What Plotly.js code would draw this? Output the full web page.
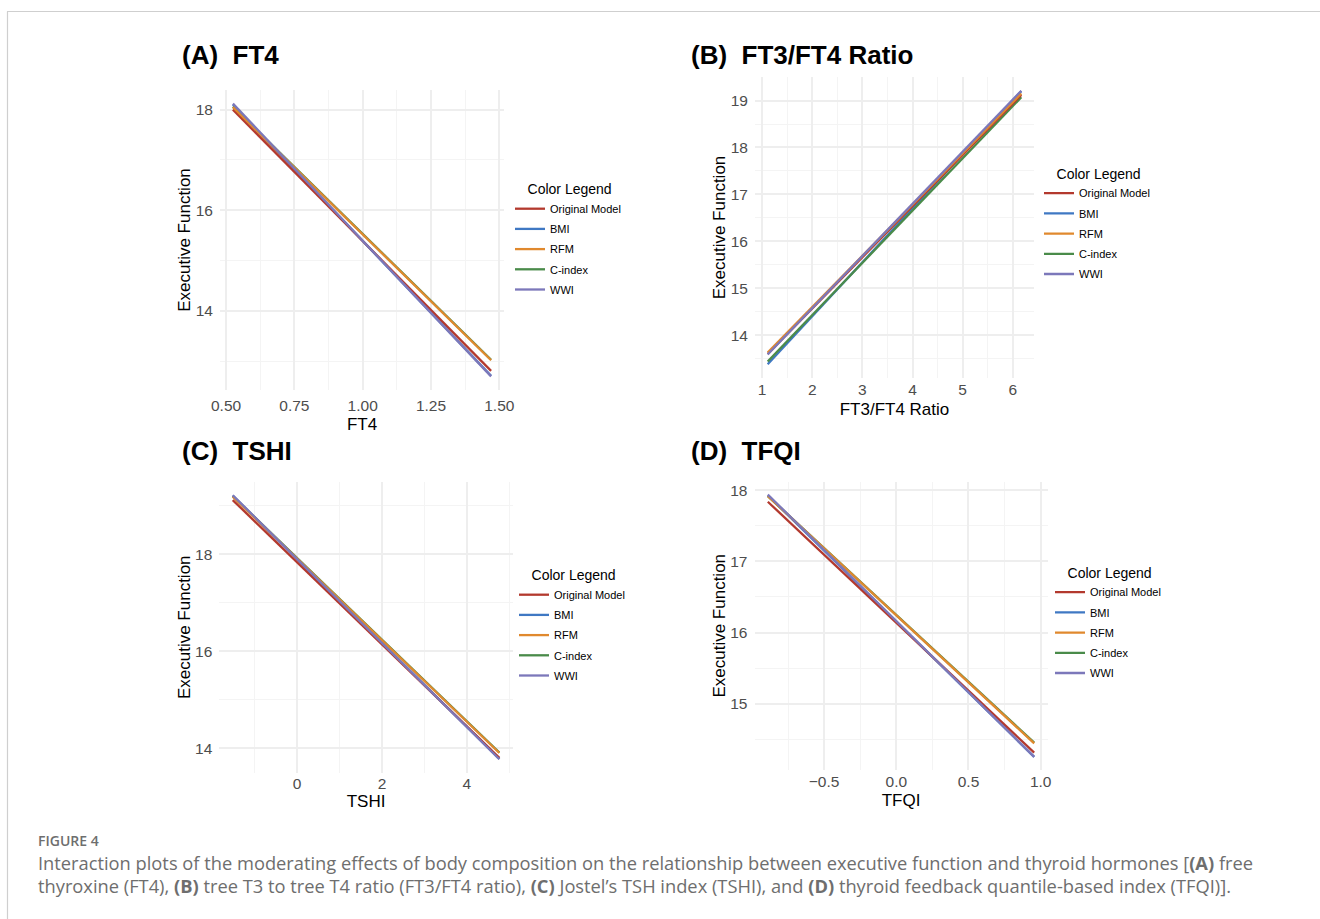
<!DOCTYPE html>
<html>
<head>
<meta charset="utf-8">
<script src="https://cdn.plot.ly/plotly-3.0.1.min.js"></script>
<style>
html, body { margin: 0; padding: 0; background: #ffffff; }
#chart { width: 1320px; height: 919px; }
</style>
</head>
<body>
<div id="chart"></div>
<script>
// ---- data ----
const seriesNames = ["Original Model", "BMI", "RFM", "C-index", "WWI"];
const seriesColors = ["#B3392E", "#3F78C3", "#E0892E", "#4A8B4A", "#7C78BA"];

// Panel A: FT4
const ft4X = [0.525, 1.47];
const ft4Original = [18.00, 12.81];
const ft4BMI = [18.10, 12.71];
const ft4RFM = [18.05, 13.02];
const ft4Cindex = [18.06, 13.03];
const ft4WWI = [18.12, 12.70];

// Panel B: FT3/FT4 Ratio
const ratioX = [1.11, 6.17];
const ratioOriginal = [13.60, 19.12];
const ratioBMI = [13.38, 19.20];
const ratioRFM = [13.63, 19.15];
const ratioCindex = [13.44, 19.07];
const ratioWWI = [13.59, 19.21];

// Panel C: TSHI
const tshiX = [-1.52, 4.77];
const tshiOriginal = [19.12, 13.80];
const tshiBMI = [19.21, 13.78];
const tshiRFM = [19.19, 13.90];
const tshiCindex = [19.20, 13.91];
const tshiWWI = [19.22, 13.77];

// Panel D: TFQI
const tfqiX = [-0.89, 0.955];
const tfqiOriginal = [17.84, 14.31];
const tfqiBMI = [17.93, 14.25];
const tfqiRFM = [17.92, 14.44];
const tfqiCindex = [17.92, 14.45];
const tfqiWWI = [17.94, 14.25];

const panelTitles = ["(A)\u00A0 FT4", "(B)\u00A0 FT3/FT4 Ratio", "(C)\u00A0 TSHI", "(D)\u00A0 TFQI"];
const xTitles = ["FT4", "FT3/FT4 Ratio", "TSHI", "TFQI"];
const yTitle = "Executive Function";
const legendTitle = "Color Legend";
const captionLabel = "FIGURE 4";
const captionLine1 = "Interaction plots of the moderating effects of body composition on the relationship between executive function and thyroid hormones [<b>(A)</b> free";
const captionLine2 = "thyroxine (FT4), <b>(B)</b> tree T3 to tree T4 ratio (FT3/FT4 ratio), <b>(C)</b> Jostel\u2019s TSH index (TSHI), and <b>(D)</b> thyroid feedback quantile-based index (TFQI)].";

// ggplot draws groups in alphabetical order: BMI, C-index, Original Model, RFM, WWI
const drawOrder = [1, 3, 0, 2, 4];

// ---- build ----
const W = 1320, H = 919;
const px = v => v / W;
const py = v => 1 - v / H;

const panels = [
  { x: ft4X, ys: [ft4Original, ft4BMI, ft4RFM, ft4Cindex, ft4WWI],
    dom: [220, 504, 90, 390], xdt: 0.25, xt0: 0.5, xfmt: ".2f", ydt: 2, yt0: 0, xtl: 1, so: 5,
    title: [180, 55], legend: [510, 176] },
  { x: ratioX, ys: [ratioOriginal, ratioBMI, ratioRFM, ratioCindex, ratioWWI],
    dom: [755, 1034, 77, 378], xdt: 1, xt0: 0, xfmt: "d", ydt: 1, yt0: 0, xtl: 0, so: 6,
    title: [689, 55], legend: [1039, 160.5] },
  { x: tshiX, ys: [tshiOriginal, tshiBMI, tshiRFM, tshiCindex, tshiWWI],
    dom: [219.4, 512.7, 482, 772.5], xdt: 2, xt0: 0, xfmt: "d", ydt: 2, yt0: 0, xtl: 0, so: 4,
    title: [180, 451], legend: [514, 562] },
  { x: tfqiX, ys: [tfqiOriginal, tfqiBMI, tfqiRFM, tfqiCindex, tfqiWWI],
    dom: [754.5, 1047.5, 481.5, 770], xdt: 0.5, xt0: 0, xfmt: ".1f", ydt: 1, yt0: 0, xtl: 0, so: 5,
    title: [689, 451], legend: [1050, 559.5] }
];

function expandRange(arrs) {
  const all = [].concat(...arrs);
  const mn = Math.min(...all), mx = Math.max(...all);
  const pad = (mx - mn) * 0.05;
  return [mn - pad, mx + pad];
}
// minor gridlines halfway between major ticks, inside the range
function minorVals(range, t0, dt) {
  const out = [];
  const start = Math.ceil((range[0] - t0) / dt - 0.5);
  for (let k = start; t0 + (k + 0.5) * dt <= range[1]; k++) {
    const v = t0 + (k + 0.5) * dt;
    if (v >= range[0]) out.push(+v.toFixed(6));
  }
  return out;
}

const FONT = "Liberation Sans, Arial, Helvetica, sans-serif";
const traces = [];
const layout = {
  width: W, height: H,
  margin: { l: 0, r: 0, t: 0, b: 0 },
  paper_bgcolor: "#ffffff",
  plot_bgcolor: "#ffffff",
  font: { family: FONT, color: "#000000" },
  showlegend: true,
  annotations: [],
  shapes: [
    { type: "line", xref: "paper", yref: "paper", x0: px(7), x1: 1, y0: py(11.5), y1: py(11.5), line: { color: "#CFCFCF", width: 1.2 } },
    { type: "line", xref: "paper", yref: "paper", x0: px(7.5), x1: px(7.5), y0: py(11.5), y1: 0, line: { color: "#CFCFCF", width: 1.2 } }
  ]
};

panels.forEach((p, i) => {
  const n = i + 1;
  const xa = n === 1 ? "x" : "x" + n;
  const ya = n === 1 ? "y" : "y" + n;
  const lg = n === 1 ? "legend" : "legend" + n;
  drawOrder.forEach(k => {
    traces.push({
      type: "scatter", mode: "lines",
      x: p.x, y: p.ys[k],
      xaxis: xa, yaxis: ya,
      name: seriesNames[k],
      legend: lg,
      legendrank: k + 1,
      legendgroup: "g" + n + "_" + k,
      line: { color: seriesColors[k], width: 2.3 },
      hoverinfo: "skip"
    });
  });
  const xr = expandRange([p.x]);
  const yr = expandRange(p.ys);
  const axCommon = {
    showline: false, zeroline: false,
    showgrid: true, gridcolor: "#EEEEEE", gridwidth: 2,
    tickfont: { family: FONT, size: 15.5, color: "#4D4D4D" },
    fixedrange: true
  };
  layout["xaxis" + (n === 1 ? "" : n)] = Object.assign({}, axCommon, {
    domain: [px(p.dom[0]), px(p.dom[1])],
    anchor: ya, range: xr,
    ticks: p.xtl > 0 ? "outside" : "", ticklen: p.xtl, tickcolor: "rgba(0,0,0,0)",
    tick0: p.xt0, dtick: p.xdt, tickformat: p.xfmt,
    minor: { tickmode: "array", tickvals: minorVals(xr, p.xt0, p.xdt), showgrid: true, gridcolor: "#F4F4F4", gridwidth: 1, ticks: "" },
    title: { text: xTitles[i], font: { family: FONT, size: 17, color: "#000000" }, standoff: p.so }
  });
  layout["yaxis" + (n === 1 ? "" : n)] = Object.assign({}, axCommon, {
    domain: [py(p.dom[3]), py(p.dom[2])],
    anchor: xa, range: yr,
    ticks: "outside", ticklen: 3, tickcolor: "rgba(0,0,0,0)",
    tick0: p.yt0, dtick: p.ydt, tickformat: "d",
    minor: { tickmode: "array", tickvals: minorVals(yr, p.yt0, p.ydt), showgrid: true, gridcolor: "#F4F4F4", gridwidth: 1, ticks: "" },
    title: { text: yTitle, font: { family: FONT, size: 17, color: "#000000" }, standoff: 0 }
  });
  layout[lg] = {
    x: px(p.legend[0]), y: py(p.legend[1]),
    xanchor: "left", yanchor: "top",
    xref: "paper", yref: "paper",
    bgcolor: "rgba(0,0,0,0)", borderwidth: 0,
    tracegroupgap: 1.2,
    font: { family: FONT, size: 11, color: "#000000" },
    title: { text: "\u00A0\u00A0\u00A0\u00A0" + legendTitle, font: { family: FONT, size: 14, color: "#000000" } },
    itemclick: false, itemdoubleclick: false
  };
  layout.annotations.push({
    xref: "paper", yref: "paper", x: px(p.title[0]), y: py(p.title[1]),
    xanchor: "left", yanchor: "middle", showarrow: false,
    text: "<b>" + panelTitles[i] + "</b>",
    font: { family: FONT, size: 26, color: "#000000" }
  });
});

const CAP_FONT = "Open Sans, Noto Sans, sans-serif";
layout.annotations.push(
  { xref: "paper", yref: "paper", x: px(36), y: py(840), xanchor: "left", yanchor: "middle", showarrow: false,
    text: captionLabel, font: { family: CAP_FONT, size: 14, color: "#6E6E6E", weight: 600 } },
  { xref: "paper", yref: "paper", x: px(36), y: py(862), xanchor: "left", yanchor: "middle", showarrow: false,
    text: captionLine1, font: { family: CAP_FONT, size: 18.3, color: "#6E6E6E" } },
  { xref: "paper", yref: "paper", x: px(36), y: py(885), xanchor: "left", yanchor: "middle", showarrow: false,
    text: captionLine2, font: { family: CAP_FONT, size: 18.3, color: "#6E6E6E" } }
);

Plotly.newPlot("chart", traces, layout, { displayModeBar: false, staticPlot: true });
</script>
</body>
</html>
